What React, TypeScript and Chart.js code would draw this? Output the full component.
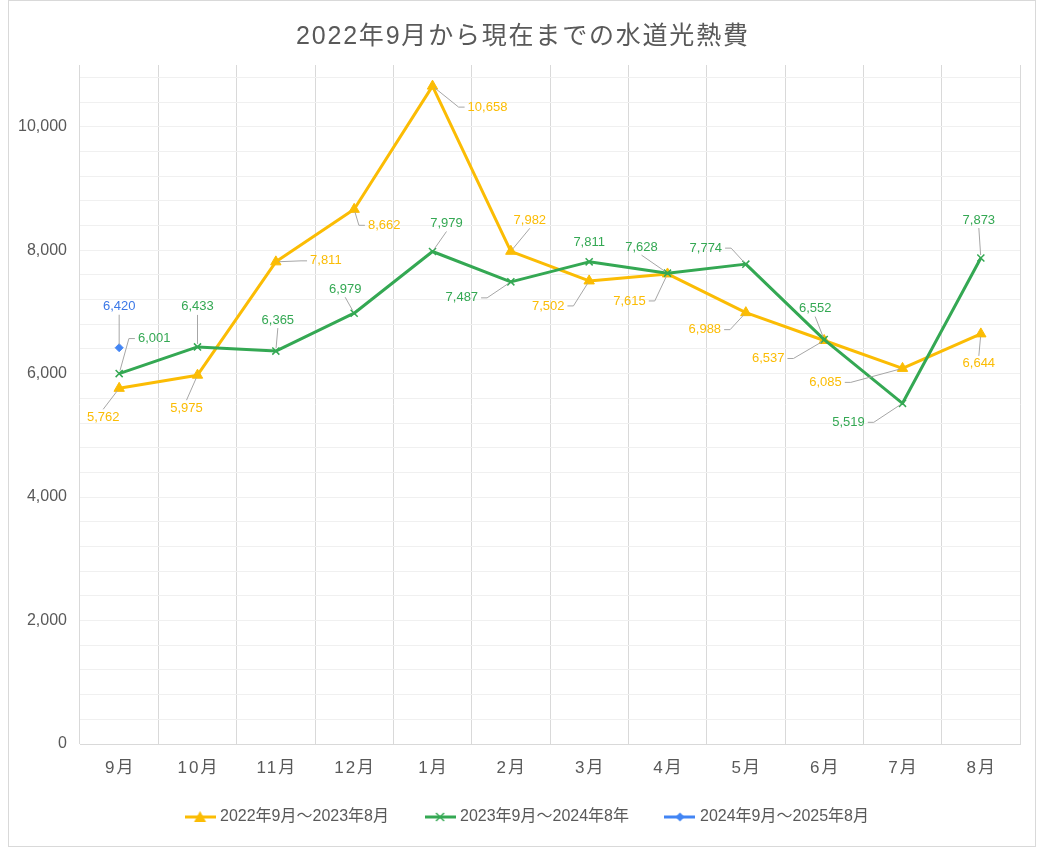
import React, { useEffect, useRef } from "react";
import { Chart, registerables } from "chart.js";

Chart.register(...registerables);

const FONT = '"Liberation Sans", "Noto Sans CJK JP", sans-serif';
const TEXT = "#595959";
const GRID = "#D9D9D9";
const MINOR = "#F0F0F0";
const LEADER = "#A6A6A6";

const chartTitle = "2022年9月から現在までの水道光熱費";
const months = ["9月", "10月", "11月", "12月", "1月", "2月", "3月", "4月", "5月", "6月", "7月", "8月"];
const seriesNames = ["2022年9月～2023年8月", "2023年9月～2024年8年", "2024年9月～2025年8月"];

const cost2022 = [5762, 5975, 7811, 8662, 10658, 7982, 7502, 7615, 6988, 6537, 6085, 6644];
const cost2023 = [6001, 6433, 6365, 6979, 7979, 7487, 7811, 7628, 7774, 6552, 5519, 7873];
const cost2024 = [6420, null, null, null, null, null, null, null, null, null, null, null];

const yTickValues = [0, 2000, 4000, 6000, 8000, 10000];
const yTickLabels = ["0", "2,000", "4,000", "6,000", "8,000", "10,000"];
const yMax = 11000;
const yMinorStep = 400;

// value label position relative to its point (px)
const labelShift2022 = [[-16, 29], [-11, 33], [50, -1], [30, 16], [55, 21], [19, -31], [-41, 25], [-38, 27], [-41, 17], [-56, 18], [-77, 14], [-2, 30]];
const labelShift2023 = [[35, -35], [0, -40], [2, -31], [-9, -24], [14, -28], [-49, 16], [0, -19], [-26, -26], [-40, -16], [-9, -31], [-54, 19], [-2, -38]];
const labelShift2024 = [[0, -41]];

const lineColors = ["#FBBC04", "#34A853", "#4285F4"];
const labelColors = ["#FBBC04", "#34A853", "#3B78E7"];

const seriesValues = [cost2022, cost2023, cost2024];
const labelShifts = [labelShift2022, labelShift2023, labelShift2024];

function legendIcon(color: string, marker: string) {
  const c = document.createElement("canvas");
  c.width = 31;
  c.height = 14;
  const g = c.getContext("2d")!;
  g.strokeStyle = color;
  g.fillStyle = color;
  g.lineWidth = 3;
  g.beginPath();
  g.moveTo(0, 7);
  g.lineTo(31, 7);
  g.stroke();
  const cx = 15.5, cy = 7;
  if (marker === "triangle") {
    g.beginPath();
    g.moveTo(cx, cy - 6);
    g.lineTo(cx + 6, cy + 5);
    g.lineTo(cx - 6, cy + 5);
    g.closePath();
    g.fill();
  } else if (marker === "cross") {
    g.lineWidth = 1.5;
    g.beginPath();
    g.moveTo(cx - 4, cy - 4);
    g.lineTo(cx + 4, cy + 4);
    g.moveTo(cx + 4, cy - 4);
    g.lineTo(cx - 4, cy + 4);
    g.stroke();
  } else {
    g.beginPath();
    g.moveTo(cx, cy - 4.5);
    g.lineTo(cx + 4.5, cy);
    g.lineTo(cx, cy + 4.5);
    g.lineTo(cx - 4.5, cy);
    g.closePath();
    g.fill();
  }
  return c;
}

const overlay = {
  id: "overlay",
  afterDatasetsDraw(chart: any) {
    const ctx = chart.ctx;
    ctx.save();
    ctx.font = `13px ${FONT}`;
    ctx.textAlign = "center";
    ctx.textBaseline = "middle";
    seriesValues.forEach((values, i) => {
      const meta = chart.getDatasetMeta(i);
      values.forEach((v, j) => {
        if (v == null) return;
        const pt = meta.data[j];
        const [dx, dy] = labelShifts[i][j];
        const text = v.toLocaleString("en-US");
        const w = ctx.measureText(text).width;
        const lx = pt.x + dx;
        const ly = pt.y + dy;
        ctx.strokeStyle = LEADER;
        ctx.lineWidth = 1;
        let sx: number | null = null, sy = 0, bx = 0, by = 0;
        if (Math.abs(dx) > w / 2 + 10) {
          const side = dx > 0 ? -1 : 1;
          sx = lx + side * (w / 2 + 3);
          sy = ly;
          bx = sx + side * 6;
          by = ly;
        } else if (Math.abs(dy) - 7 > 15) {
          sx = lx;
          sy = ly + (dy < 0 ? 8 : -8);
          bx = sx;
          by = sy;
        }
        if (sx !== null) {
          const len = Math.hypot(pt.x - bx, pt.y - by) || 1;
          const ex = pt.x - ((pt.x - bx) / len) * 3;
          const ey = pt.y - ((pt.y - by) / len) * 3;
          ctx.beginPath();
          ctx.moveTo(sx, sy);
          ctx.lineTo(bx, by);
          ctx.lineTo(ex, ey);
          ctx.stroke();
        }
        ctx.fillStyle = labelColors[i];
        ctx.fillText(text, lx, ly);
      });
    });
    ctx.restore();
  },
  afterDraw(chart: any) {
    const ctx = chart.ctx;
    const xs = chart.scales.x;
    const ys = chart.scales.y;
    ctx.save();
    ctx.fillStyle = TEXT;
    ctx.textBaseline = "middle";

    // y axis labels
    ctx.textAlign = "right";
    ctx.font = `16px ${FONT}`;
    yTickValues.forEach((v, i) => {
      ctx.fillText(yTickLabels[i], chart.chartArea.left - 13, ys.getPixelForValue(v));
    });

    // x axis labels
    ctx.textAlign = "center";
    ctx.font = `17px ${FONT}`;
    ctx.letterSpacing = "2px";
    months.forEach((m, i) => {
      ctx.fillText(m, xs.getPixelForValue(i) + 1, chart.chartArea.bottom + 24);
    });

    // title
    ctx.font = `25px ${FONT}`;
    ctx.letterSpacing = "1.8px";
    ctx.fillText(chartTitle, chart.width / 2 + 0.9, 36);
    ctx.restore();
  },
};

export default function App() {
  const chartRef = useRef<HTMLCanvasElement | null>(null);

  useEffect(() => {
    const icons = [
      legendIcon(lineColors[0], "triangle"),
      legendIcon(lineColors[1], "cross"),
      legendIcon(lineColors[2], "diamond"),
    ];
    const gridValues: number[] = [];
    for (let v = 0; v < yMax; v += yMinorStep) gridValues.push(v);

    const ctx = chartRef.current?.getContext("2d");
    if (!ctx) return;

    const chart = new Chart(ctx, {
      type: "line",
      data: {
        labels: months,
        datasets: [
          {
            label: seriesNames[0],
            data: cost2022,
            borderColor: lineColors[0],
            backgroundColor: lineColors[0],
            borderWidth: 3,
            pointStyle: "triangle",
            pointRadius: 6,
            pointBorderWidth: 1,
            borderJoinStyle: "round",
            order: 3,
          },
          {
            label: seriesNames[1],
            data: cost2023,
            borderColor: lineColors[1],
            backgroundColor: lineColors[1],
            borderWidth: 3,
            pointStyle: "crossRot",
            pointRadius: 5,
            pointBorderWidth: 1.5,
            borderJoinStyle: "round",
            order: 2,
          },
          {
            label: seriesNames[2],
            data: cost2024,
            borderColor: lineColors[2],
            backgroundColor: lineColors[2],
            borderWidth: 3,
            pointStyle: "rectRot",
            pointRadius: 4,
            pointBorderWidth: 1,
            order: 1,
          },
        ],
      },
      options: {
        animation: false,
        responsive: true,
        maintainAspectRatio: false,
        layout: { padding: { left: 28, right: 15, top: 64, bottom: 11 } },
        plugins: {
          title: { display: false },
          tooltip: { enabled: false },
          legend: {
            position: "bottom",
            labels: {
              usePointStyle: true,
              pointStyleWidth: 24,
              padding: 39,
              color: TEXT,
              font: { size: 16, family: FONT },
              sort: (a: any, b: any) => a.datasetIndex - b.datasetIndex,
              generateLabels: (c: any) =>
                Chart.defaults.plugins.legend.labels
                  .generateLabels(c)
                  .map((item: any) => ({ ...item, pointStyle: icons[item.datasetIndex] })),
            },
          },
        },
        scales: {
          x: {
            offset: true,
            grid: { offset: true, color: GRID, drawTicks: false },
            border: { display: true, color: GRID },
            ticks: { display: false },
            afterFit: (s: any) => {
              s.height = 26;
            },
          },
          y: {
            min: 0,
            max: yMax,
            grid: {
              drawTicks: false,
              color: (c: any) => (c.tick && c.tick.value === 0 ? GRID : MINOR),
            },
            border: { display: false },
            afterBuildTicks: (s: any) => {
              s.ticks = gridValues.map((v) => ({ value: v }));
            },
            ticks: { display: false },
            afterFit: (s: any) => {
              s.width = 43;
            },
          },
        },
      },
      plugins: [overlay],
    });

    return () => {
      chart.destroy();
    };
  }, []);

  return (
    <div
      style={{
        position: "absolute",
        left: 8,
        top: 0,
        width: 1028,
        height: 847,
        border: "1px solid #D9D9D9",
        boxSizing: "border-box",
        background: "#fff",
      }}
    >
      <div style={{ position: "relative", width: 1026, height: 845 }}>
        <canvas ref={chartRef}></canvas>
      </div>
    </div>
  );
}
